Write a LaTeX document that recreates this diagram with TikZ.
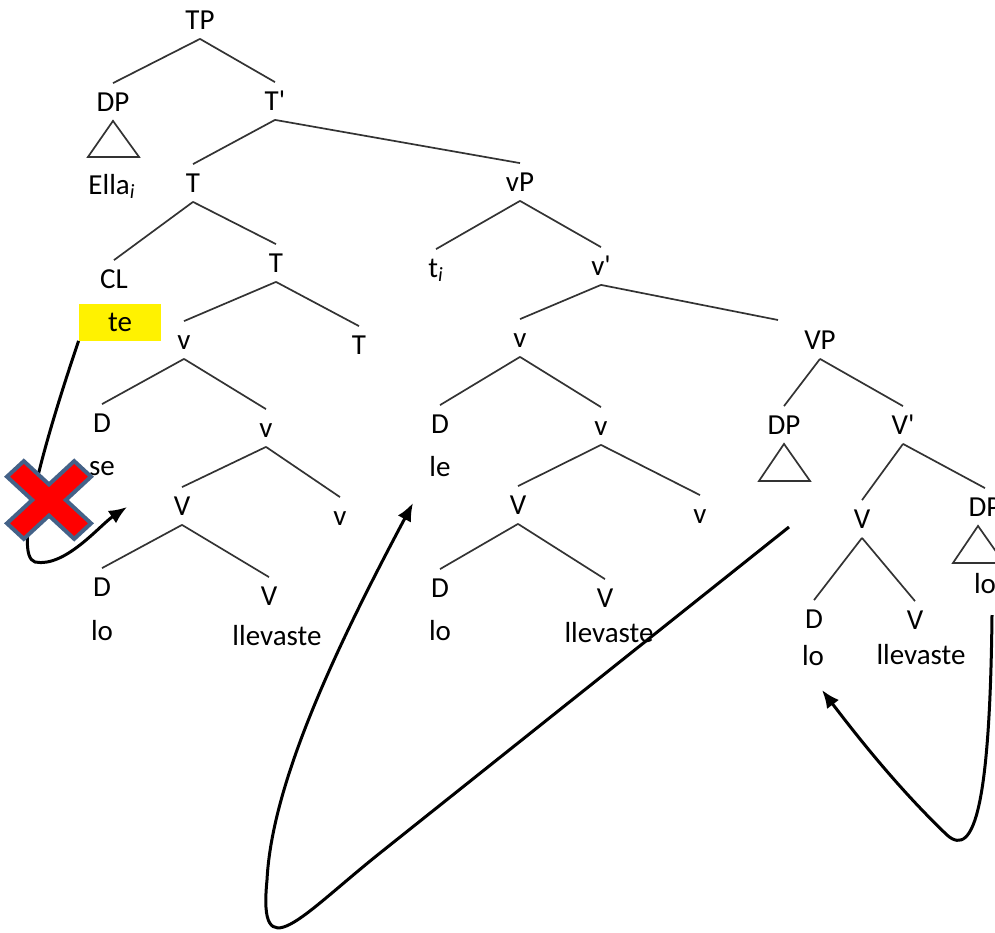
\documentclass[tikz,border=0pt]{standalone}
\usepackage{fontspec}
\setmainfont{Carlito}
\usetikzlibrary{arrows.meta}
\definecolor{xblue}{RGB}{68,98,136}

\begin{document}
\begin{tikzpicture}[x=0.5pt,y=-0.5pt,
    cat/.style={inner xsep=1pt,inner ysep=4.6pt,text height=9.3pt,text depth=0pt,font=\fontsize{14.5}{17}\selectfont},
    branch/.style={color=black!80,line width=0.85pt},
    move/.style={color=black,line width=1.5pt,-{Latex[length=9pt,width=7.5pt]}},
    xmark/.style={fill=red,draw=xblue,line width=2pt,line join=miter}]
    \useasboundingbox (0,0) rectangle (995,932);
    \clip (0,0) rectangle (995,932);
%
    \node[cat] (TP) at (200,20) {TP};
    \node[cat] (DP) at (113,102) {DP};
    \node[cat] (Tbar) at (275,101) {T\textquotesingle};
    \node[cat] (Ella) at (112,185) {Ella\textsubscript{\textit{i}}};
    \node[cat] (T1) at (193,183) {T};
    \node[cat] (CL) at (114,279) {CL};
    \node[cat,fill=yellow,minimum width=41pt,minimum height=18.5pt] (te) at (120,322) {te};
    \node[cat] (T2) at (276,263) {T};
    \node[cat] (v1) at (184,340) {v};
    \node[cat] (T3) at (359,345) {T};
    \node[cat] (D1) at (102,423) {D};
    \node[cat] (se) at (102,466) {se};
    \node[cat] (v2) at (266,428) {v};
    \node[cat] (V1) at (182,506) {V};
    \node[cat] (v3) at (340,516) {v};
    \node[cat] (D2) at (102,587) {D};
    \node[cat] (lo1) at (102,631) {lo};
    \node[cat] (V2) at (269,596) {V};
    \node[cat] (llev1) at (277,636) {llevaste};
%
    \node[cat] (vP) at (520,182) {vP};
    \node[cat] (ti) at (436,268) {t\textsubscript{\textit{i}}};
    \node[cat] (vbar) at (601,266) {v\textquotesingle};
    \node[cat] (v4) at (520,338) {v};
    \node[cat] (D3) at (440,424) {D};
    \node[cat] (le) at (440,467) {le};
    \node[cat] (v5) at (601,426) {v};
    \node[cat] (V3) at (518,505) {V};
    \node[cat] (v6) at (700,514) {v};
    \node[cat] (D4) at (440,588) {D};
    \node[cat] (lo2) at (440,631) {lo};
    \node[cat] (V4) at (605,598) {V};
    \node[cat] (llev2) at (609,633) {llevaste};
%
    \node[cat] (VP) at (820,340) {VP};
    \node[cat] (DP2) at (784,425) {DP};
    \node[cat] (Vbar) at (903,425) {V\textquotesingle};
    \node[cat] (V5) at (862,519) {V};
    \node[cat] (DP3) at (985,507) {DP};
    \node[cat] (lo3) at (985,584) {lo};
    \node[cat] (D5) at (814,619) {D};
    \node[cat] (lo4) at (813,656) {lo};
    \node[cat] (V6) at (915,620) {V};
    \node[cat] (llev3) at (921,655) {llevaste};
%
    \coordinate (VPend) at (778,320);
    \coordinate (seLand) at (127,507);
    \coordinate (leFrom) at (789,527);
    \coordinate (leLand) at (413,503);
    \coordinate (loFrom) at (992,615);
    \coordinate (loLand) at (822,690);
%
    \draw[branch]
    (TP.south) -- (DP.north) (TP.south) -- (Tbar.north)
    (DP.south) -- ++(-25,36) -- ++(51,0) -- cycle
    (Tbar.south) -- (T1.north) (Tbar.south) -- (vP.north)
    (T1.south) -- (CL.north) (T1.south) -- (T2.north)
    (T2.south) -- (v1.north) (T2.south) -- (T3.north)
    (v1.south) -- (D1.north) (v1.south) -- (v2.north)
    (v2.south) -- (V1.north) (v2.south) -- (v3.north)
    (V1.south) -- (D2.north) (V1.south) -- (V2.north)
%
    (vP.south) -- (ti.north) (vP.south) -- (vbar.north)
    (vbar.south) -- (v4.north) (vbar.south) -- (VPend)
    (v4.south) -- (D3.north) (v4.south) -- (v5.north)
    (v5.south) -- (V3.north) (v5.south) -- (v6.north)
    (V3.south) -- (D4.north) (V3.south) -- (V4.north)
%
    (VP.south) -- (DP2.north) (VP.south) -- (Vbar.north)
    (DP2.south) -- ++(-25,37) -- ++(51,0) -- cycle
    (Vbar.south) -- (V5.north) (Vbar.south) -- (DP3.north)
    ([xshift=-3.5pt]DP3.south) -- ++(-25,37) -- ++(51,0) -- cycle
    (V5.south) -- (D5.north) (V5.south) -- (V6.north)
    ;
%
    \draw[move] (te.south west) .. controls (45,440) and (12,555) .. (35,562) .. controls (65,568) and (100,525) .. (seLand);
    \draw[move] (leFrom) -- (380,853) .. controls (300,917) and (258,970) .. (267,880) .. controls (272,780) and (340,640) .. (leLand);
    \draw[move] (loFrom) .. controls (990,800) and (975,860) .. (947,835) .. controls (900,790) and (860,740) .. (loLand);
%
    \begin{scope}[shift={(49,500)},xscale=1.08,rotate=45]
      \draw[xmark] (11,11) -- (11,44) -- (-11,44) -- (-11,11) -- (-44,11) -- (-44,-11) -- (-11,-11) -- (-11,-44) -- (11,-44) -- (11,-11) -- (44,-11) -- (44,11) -- cycle;
    \end{scope}
\end{tikzpicture}
\end{document}
